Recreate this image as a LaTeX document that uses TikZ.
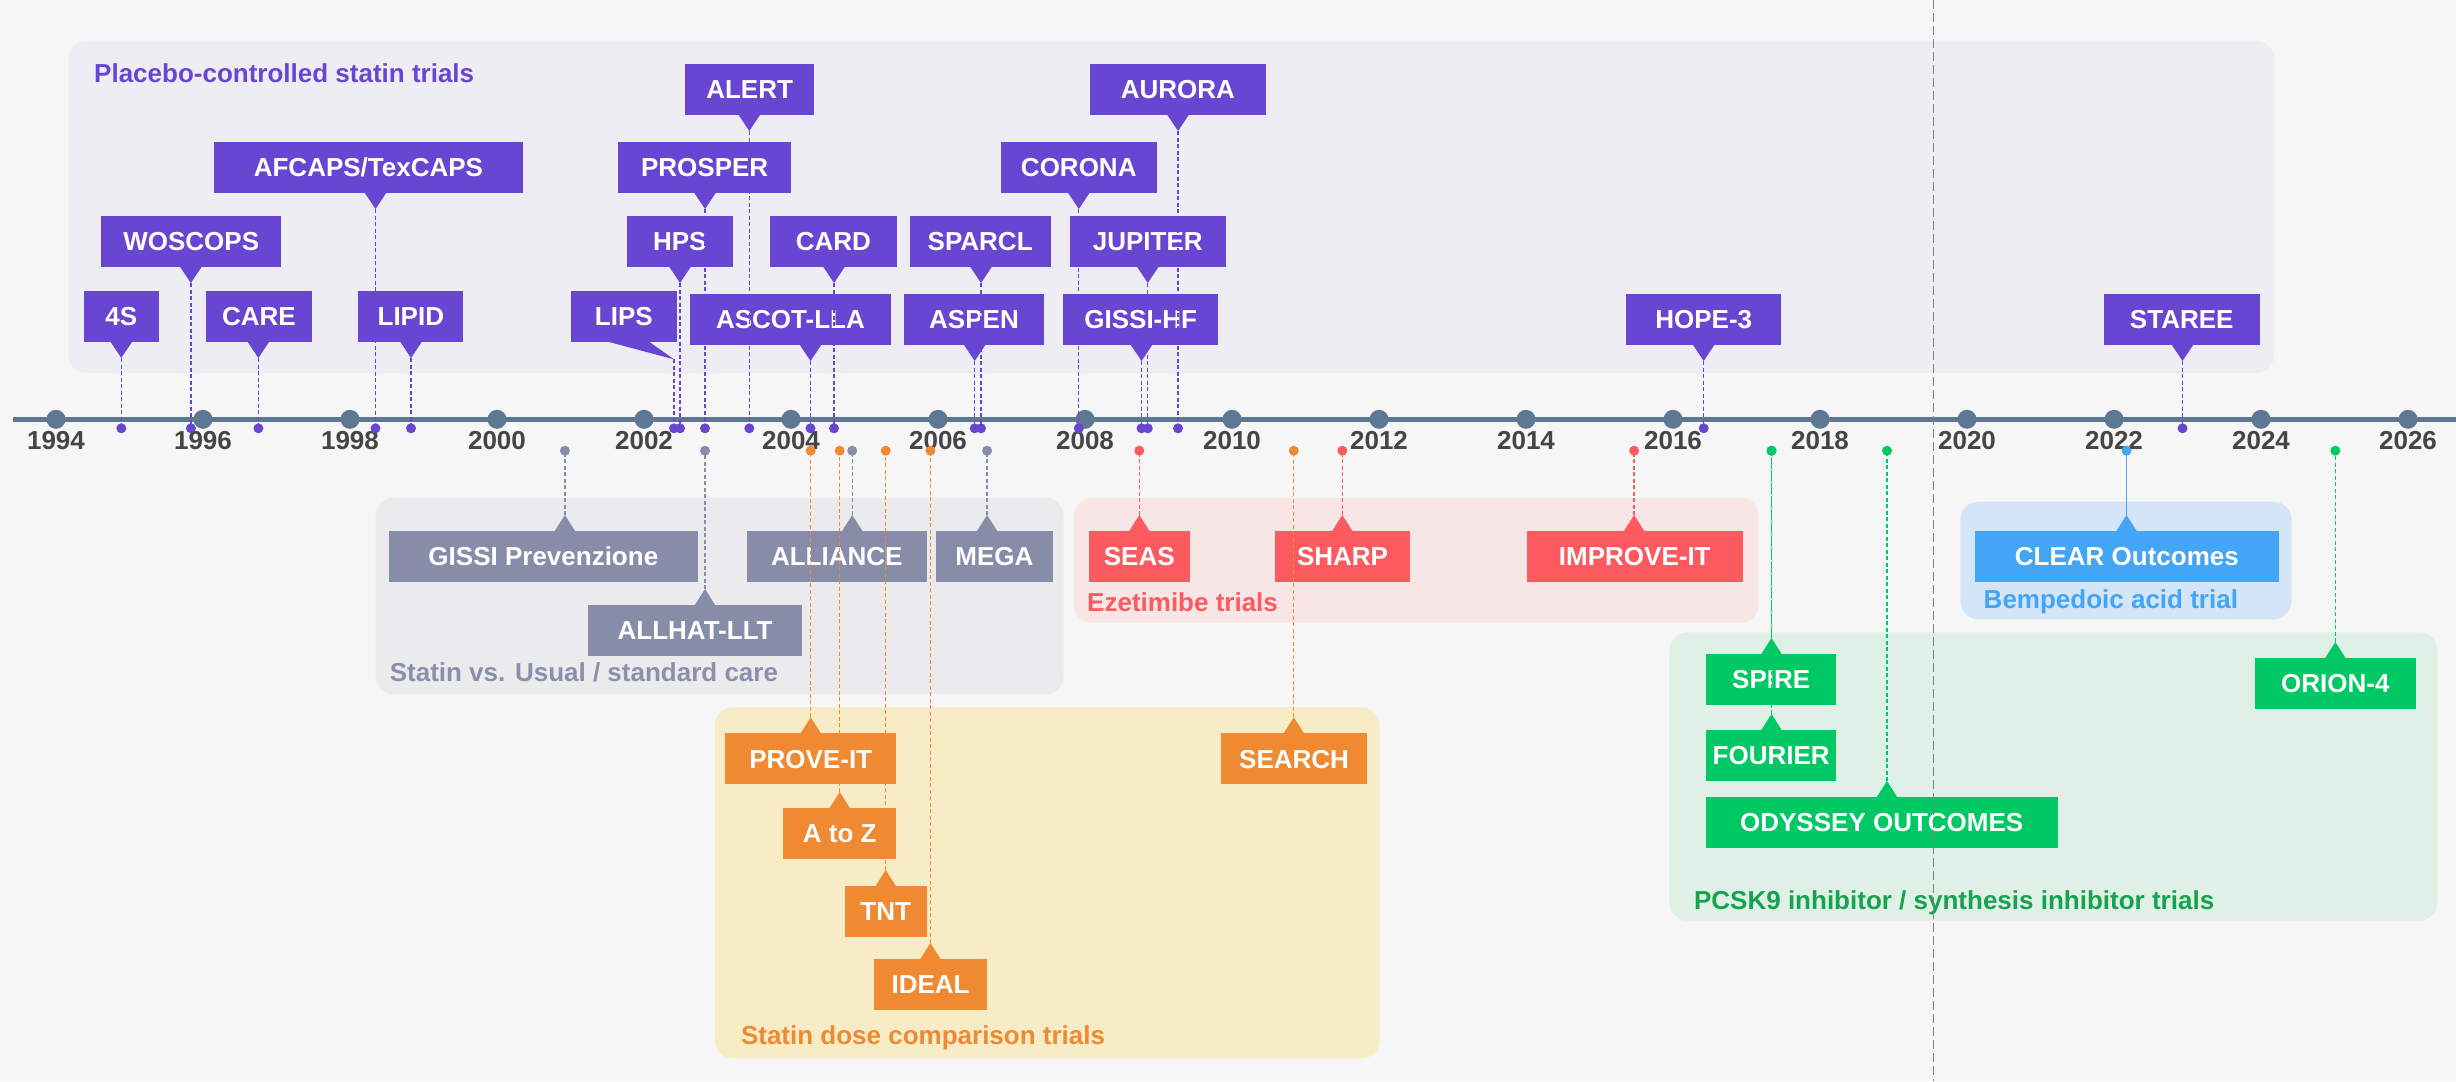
\documentclass[tikz,border=0pt]{standalone}
\usepackage{fontspec}
\setmainfont{Liberation Sans}
\definecolor{bgc}{HTML}{F6F6F6}
\definecolor{axisc}{HTML}{5E7893}
\definecolor{yearc}{HTML}{454545}
\definecolor{purp}{HTML}{6946D1}
\definecolor{grayb}{HTML}{878DA9}
\definecolor{grayl}{HTML}{8A90AB}
\definecolor{redb}{HTML}{FD5A5F}
\definecolor{orab}{HTML}{F08A32}
\definecolor{blueb}{HTML}{42A5F5}
\definecolor{greenb}{HTML}{00C865}
\definecolor{greenl}{HTML}{17A24F}
\definecolor{gfPurp}{HTML}{EEEDF4}
\definecolor{gfGray}{HTML}{EBEBED}
\definecolor{gfRed}{HTML}{F8E6E7}
\definecolor{gfOra}{HTML}{F8ECC6}
\definecolor{gfBlue}{HTML}{D3E5F6}
\definecolor{gfGreen}{HTML}{DFF1E6}
\definecolor{vline}{HTML}{808080}
\pgfdeclarelayer{bg}
\pgfdeclarelayer{fg}
\pgfsetlayers{bg,main,fg}
\newcommand\labfont{\fontsize{26}{30}\selectfont\bfseries}
\tikzset{
  tbox/.style={rectangle,inner sep=0pt,minimum height=51pt,text=white,font=\labfont,text height=18.6pt,text depth=0pt},
  dotnode/.style={circle,inner sep=0pt,minimum size=10pt},
  conn/.style={line width=1.3pt,dash pattern=on 4pt off 2.5pt},
  solidconn/.style={line width=1.3pt},
  grp/.style={rounded corners=18pt},
  glab/.style={font=\labfont,anchor=base west,inner sep=0pt},
  ycirc/.style={circle,inner sep=0pt,minimum width=19pt,fill=axisc},
  ylab/.style={font=\labfont,text=yearc,inner sep=0pt,text height=18.6pt,text depth=0pt}
}
% name, label, x1, x2, ytop, apex x, colour
\newcommand\TrDown[7]{%
  \node[tbox,fill=#7,minimum width={#4-#3}] (#1) at ({(#3+#4)/2},{#5+25.5}) {#2};
  \fill[#7] ({#6-11},{#5+50.5}) -- ({#6+11},{#5+50.5}) -- (#6,{#5+67}) -- cycle;
  \coordinate (#1-tip) at (#6,{#5+67});
  \coordinate (#1-pt) at (#6,428.3);
  \begin{pgfonlayer}{fg}
    \draw[conn,#7] (#1-tip) -- (#1-pt);
    \node[dotnode,fill=#7] (#1-dot) at (#1-pt) {};
  \end{pgfonlayer}}
% name, label, x1, x2, ytop, apex x, colour, connector style
\newcommand\TrUp[8]{%
  \node[tbox,fill=#7,minimum width={#4-#3}] (#1) at ({(#3+#4)/2},{#5+25.5}) {#2};
  \fill[#7] ({#6-10.5},{#5+0.5}) -- ({#6+10.5},{#5+0.5}) -- (#6,{#5-16}) -- cycle;
  \coordinate (#1-tip) at (#6,{#5-16});
  \coordinate (#1-pt) at (#6,450.7);
  \begin{pgfonlayer}{fg}
    \draw[#8,#7] (#1-tip) -- (#1-pt);
    \node[dotnode,fill=#7] (#1-dot) at (#1-pt) {};
  \end{pgfonlayer}}
\begin{document}
\begin{tikzpicture}[x=1pt,y=-1pt]
\useasboundingbox (0,0) rectangle (2456,1081);
\begin{pgfonlayer}{bg}
  \fill[bgc] (0,0) rectangle (2456,1081);
  \fill[gfPurp,grp] (68.5,40.7) rectangle (2274,373);
  \fill[gfGray,grp] (375.5,497.7) rectangle (1063.5,694.3);
  \fill[gfRed,grp] (1074,497.7) rectangle (1758.5,622.7);
  \fill[gfOra,grp] (714.8,707.3) rectangle (1379.6,1058.3);
  \fill[gfBlue,grp] (1960.4,501.7) rectangle (2291.5,619.3);
  \fill[gfGreen,grp] (1669.3,632.3) rectangle (2437.4,920.7);
\end{pgfonlayer}
% group labels
\node[glab,text=purp] (gl-placebo) at (94,82.3) {Placebo-controlled statin trials};
\node[glab,text=grayl] (gl-usual) at (389.6,681) {Statin vs. Usual / standard care};
\node[glab,text=redb] (gl-eze) at (1087,611) {Ezetimibe trials};
\node[glab,text=orab] (gl-dose) at (740.8,1044.3) {Statin dose comparison trials};
\node[glab,text=blueb] (gl-bemp) at (1983.5,608.3) {Bempedoic acid trial};
\node[glab,text=greenl] (gl-pcsk) at (1693.9,909.3) {PCSK9 inhibitor / synthesis inhibitor trials};
% axis
\coordinate (axL) at (13,419.3);
\coordinate (axR) at (2456,419.3);
\draw[axisc,line width=5pt] (axL) -- (axR);
\foreach \yr in {1994,1996,...,2026}{
  \node[ycirc] (y\yr) at ({56+(\yr-1994)*73.5},419.3) {};
  \node[ylab] (yl\yr) at ({56+(\yr-1994)*73.5},440) {\yr};
}
% placebo-controlled trials
\TrDown{s4}{4S}{84.2}{158.5}{291}{121.3}{purp}
\TrDown{woscops}{WOSCOPS}{101}{281.4}{216}{190.9}{purp}
\TrDown{care}{CARE}{206}{311.7}{291}{258.4}{purp}
\TrDown{afcaps}{AFCAPS/TexCAPS}{213.9}{523}{142}{375.5}{purp}
\TrDown{lipid}{LIPID}{358.3}{463.4}{291}{411}{purp}
\TrDown{hps}{HPS}{627}{732.7}{216}{680}{purp}
\TrDown{prosper}{PROSPER}{618}{791.3}{142}{705}{purp}
\TrDown{alert}{ALERT}{685}{814.3}{64}{749.3}{purp}
\TrDown{card}{CARD}{770}{896.8}{216}{834}{purp}
\TrDown{ascot}{ASCOT-LLA}{689.8}{891}{294}{810.5}{purp}
\TrDown{sparcl}{SPARCL}{909.8}{1050.5}{216}{981}{purp}
\TrDown{aspen}{ASPEN}{904}{1044}{294}{974.7}{purp}
\TrDown{corona}{CORONA}{1000.8}{1156.7}{142}{1078.8}{purp}
\TrDown{jupiter}{JUPITER}{1069.9}{1225.7}{216}{1147.8}{purp}
\TrDown{gissihf}{GISSI-HF}{1063}{1218.4}{294}{1141.5}{purp}
\TrDown{aurora}{AURORA}{1090.3}{1265.5}{64}{1178}{purp}
\TrDown{hope}{HOPE-3}{1626.2}{1781.2}{294}{1703.7}{purp}
\TrDown{staree}{STAREE}{2103.9}{2259.5}{294}{2182.5}{purp}
% LIPS with a slanted pointer
\node[tbox,fill=purp,minimum width=105.7] (lips) at (623.85,316.5) {LIPS};
\fill[purp] (606,341.2) -- (648.3,341.2) -- (674,359.3) -- cycle;
\coordinate (lips-tip) at (674,359.3);
\coordinate (lips-pt) at (674,428.3);
\begin{pgfonlayer}{fg}
  \draw[conn,purp] (lips-tip) -- (lips-pt);
  \node[dotnode,fill=purp] (lips-dot) at (lips-pt) {};
\end{pgfonlayer}
% statin vs usual care
\TrUp{gissip}{GISSI Prevenzione}{389}{697.7}{531}{564.9}{grayb}{conn}
\TrUp{allhat}{ALLHAT-LLT}{587.9}{802.3}{605}{705}{grayb}{conn}
\TrUp{alliance}{ALLIANCE}{747}{926.5}{531}{852.2}{grayb}{conn}
\TrUp{mega}{MEGA}{935.9}{1053}{531}{987.1}{grayb}{conn}
% ezetimibe
\TrUp{seas}{SEAS}{1089}{1189.5}{531}{1139.3}{redb}{conn}
\TrUp{sharp}{SHARP}{1275.3}{1409.7}{531}{1342.3}{redb}{conn}
\TrUp{improve}{IMPROVE-IT}{1526.8}{1742.7}{531}{1634.1}{redb}{conn}
% dose comparison
\TrUp{prove}{PROVE-IT}{725}{896.4}{733.3}{810.7}{orab}{conn}
\TrUp{atoz}{A to Z}{783.2}{896.4}{808}{839.7}{orab}{conn}
\TrUp{tnt}{TNT}{844.9}{926.5}{886}{885.7}{orab}{conn}
\TrUp{ideal}{IDEAL}{874}{987.2}{959}{930.4}{orab}{conn}
\TrUp{search}{SEARCH}{1220.9}{1367.3}{733.3}{1293.8}{orab}{conn}
% bempedoic acid
\TrUp{clear}{CLEAR Outcomes}{1975}{2278.7}{531}{2126.5}{blueb}{solidconn}
% PCSK9 / synthesis inhibitors
\TrUp{spire}{SPIRE}{1705.9}{1836.4}{654}{1771.5}{greenb}{conn}
\TrUp{fourier}{FOURIER}{1705.9}{1836.4}{730}{1771.5}{greenb}{conn}
\TrUp{odyssey}{ODYSSEY OUTCOMES}{1705.9}{2057.5}{797}{1887}{greenb}{conn}
\TrUp{orion}{ORION-4}{2255}{2415.6}{658}{2335.3}{greenb}{conn}
% current-date marker
\coordinate (nowT) at (1933.6,0);
\coordinate (nowB) at (1933.6,1081);
\begin{pgfonlayer}{fg}
  \draw[vline,line width=1.3pt,dash pattern=on 9pt off 4pt] (nowT) -- (nowB);
\end{pgfonlayer}
\end{tikzpicture}
\end{document}
